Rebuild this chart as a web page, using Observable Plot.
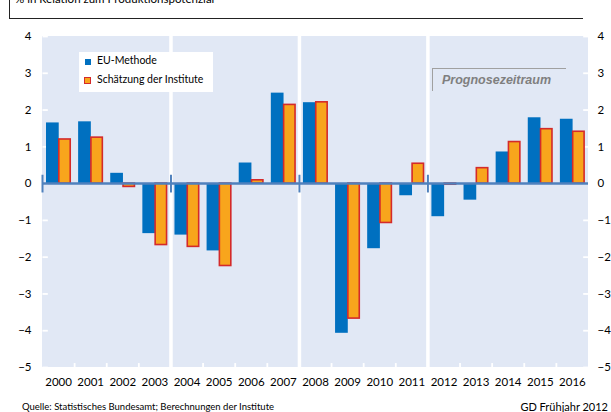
<!DOCTYPE html>
<html>
<head>
<meta charset="utf-8">
<script src="https://cdn.jsdelivr.net/npm/d3@7"></script>
<script src="https://cdn.jsdelivr.net/npm/@observablehq/plot@0.6"></script>
<style>
  html, body { margin: 0; padding: 0; background: #fff; }
  #wrap { position: relative; width: 611px; height: 412px; overflow: hidden; font-family: Lato, "Open Sans", sans-serif; }
  #wrap svg { position: absolute; left: 0; top: 0; }
  .ov { position: absolute; white-space: nowrap; }
</style>
</head>
<body>
<div id="wrap"></div>
<script>
// ---- data ----
const years = [2000,2001,2002,2003,2004,2005,2006,2007,2008,2009,2010,2011,2012,2013,2014,2015,2016];
const euMethode = [1.65,1.68,0.28,-1.36,-1.40,-1.83,0.56,2.46,2.20,-4.07,-1.77,-0.33,-0.90,-0.45,0.86,1.79,1.75];
const institute = [1.20,1.25,-0.09,-1.67,-1.72,-2.24,0.09,2.14,2.21,-3.67,-1.07,0.54,-0.03,0.42,1.13,1.48,1.41];
const panelStarts = [2000,2004,2008,2012];
const panelEnds = [2003,2007,2011,2016];
const yTicks = [-5,-4,-3,-2,-1,0,1,2,3,4];
const seriesNames = ["EU-Methode","Schätzung der Institute"];
const titleText = "% in Relation zum Produktionspotenzial";
const sourceText = "Quelle: Statistisches Bundesamt; Berechnungen der Institute";
const creditText = "GD Frühjahr 2012";
const forecastText = "Prognosezeitraum";

// ---- styles ----
const BG = "#E1E8F5", BLUE = "#0070C0", ORANGE = "#F8A51C", RED = "#D42A2A", ZERO = "#4F81BD";

const rows = years.map((y,i) => ({year: y, eu: euMethode[i], inst: institute[i]}));
const panels = panelStarts.map((s,i) => ({from: s, to: panelEnds[i]}));
const yearEdges = years.slice(0,-1).map(y => ({edge: y + 0.5}));
const xMin = years[0] - 0.5, xMax = years[years.length-1] + 0.5;
const yMin = yTicks[0], yMax = yTicks[yTicks.length-1];

// small tick symbols (one-sided line segments)
const vline = { draw(ctx, size) { const h = Math.sqrt(size); ctx.moveTo(0,-h); ctx.lineTo(0,h); } };
const tickRight = { draw(ctx, size) { const h = Math.sqrt(size); ctx.moveTo(0,0); ctx.lineTo(h,0); } };
const tickLeft  = { draw(ctx, size) { const h = Math.sqrt(size); ctx.moveTo(0,0); ctx.lineTo(-h,0); } };
const tickUp    = { draw(ctx, size) { const h = Math.sqrt(size); ctx.moveTo(0,0); ctx.lineTo(0,-h); } };

const chart = Plot.plot({
  width: 611, height: 412,
  marginTop: 36, marginBottom: 45, marginLeft: 42, marginRight: 23,
  style: { fontFamily: "Lato, 'Open Sans', sans-serif", fontSize: "11.5px", color: "#000", background: "transparent" },
  x: { type: "linear", domain: [xMin, xMax] },
  y: { domain: [yMin, yMax] },
  marks: [
    Plot.rect(panels, {x1: d => d.from - 0.5, x2: d => d.to + 0.5, y1: yMin, y2: yMax, fill: BG}),
    Plot.ruleX(panels.slice(1), {x: d => d.from - 0.5, stroke: "white", strokeWidth: 3.5}),
    Plot.dot(yTicks, {x: () => xMin, y: d => d, symbol: tickRight, r: 3, stroke: "white", strokeWidth: 1.8}),
    Plot.dot(yTicks, {x: () => xMax, y: d => d, symbol: tickLeft, r: 3, stroke: "white", strokeWidth: 1.8}),
    Plot.dot(yearEdges, {x: "edge", y: () => yMin, symbol: tickUp, r: 2.5, stroke: "white", strokeWidth: 1.8}),
    Plot.rect(rows, {x1: d => d.year - 0.5, x2: d => d.year + 0.5, y1: 0, y2: "eu", fill: BLUE, insetLeft: 4, insetRight: 15.4}),
    Plot.rect(rows, {x1: d => d.year - 0.5, x2: d => d.year + 0.5, y1: 0, y2: "inst", fill: ORANGE, stroke: RED, strokeWidth: 1.6, insetLeft: 16.8, insetRight: 3.9}),
    Plot.ruleY([0], {stroke: ZERO, strokeWidth: 2.5}),
    Plot.dot(panels, {x: d => d.from - 0.5, y: () => 0, symbol: vline, r: 5, stroke: ZERO, strokeWidth: 2}),
    Plot.axisY(yTicks, {anchor: "left", tickSize: 0, tickPadding: 11, label: null, fontSize: 11.5}),
    Plot.axisY(yTicks, {anchor: "right", tickSize: 0, tickPadding: 9, label: null, fontSize: 11.5}),
    Plot.axisX(years, {anchor: "bottom", tickSize: 0, tickPadding: 10, label: null, fontSize: 11.5, tickFormat: d => String(d)})
  ]
});

const wrap = document.getElementById("wrap");
wrap.appendChild(chart);

function ov(html, css) {
  const d = document.createElement("div");
  d.className = "ov";
  d.innerHTML = html;
  Object.assign(d.style, css);
  wrap.appendChild(d);
  return d;
}

// title box (cut at the top, as in the reference)
ov("", {left: "9px", top: "-5px", width: "573px", height: "23px", borderLeft: "1px solid #222", borderBottom: "1px solid #222"});
ov(titleText, {left: "15px", top: "-8px", fontSize: "11.5px", lineHeight: "14px"});

// legend
ov(`<div style="position:absolute;left:6px;top:7px;width:6px;height:6px;background:${BLUE}"></div>
    <div style="position:absolute;left:18px;top:2px;font-size:10.5px">${seriesNames[0]}</div>
    <div style="position:absolute;left:5px;top:25px;width:5px;height:5px;background:${ORANGE};border:1.5px solid ${RED}"></div>
    <div style="position:absolute;left:18px;top:21px;font-size:10.5px">${seriesNames[1]}</div>`,
   {left: "79px", top: "52px", width: "134px", height: "40px", background: "#fff"});

// forecast label
ov(`<span style="position:absolute;left:9px;top:4px">${forecastText}</span>`,
   {left: "432px", top: "68px", width: "133px", height: "22px", borderTop: "1px solid #a0a0a0", borderLeft: "1px solid #a0a0a0",
    fontFamily: "'Liberation Sans', Arial, sans-serif", fontWeight: "bold", fontStyle: "italic", fontSize: "12.5px", color: "#7f7f7f"});

// footer
ov(sourceText, {left: "22px", top: "401px", fontSize: "9.5px", color: "#000"});
ov(creditText, {right: "3px", top: "400px", fontSize: "11px", color: "#000"});
</script>
</body>
</html>
